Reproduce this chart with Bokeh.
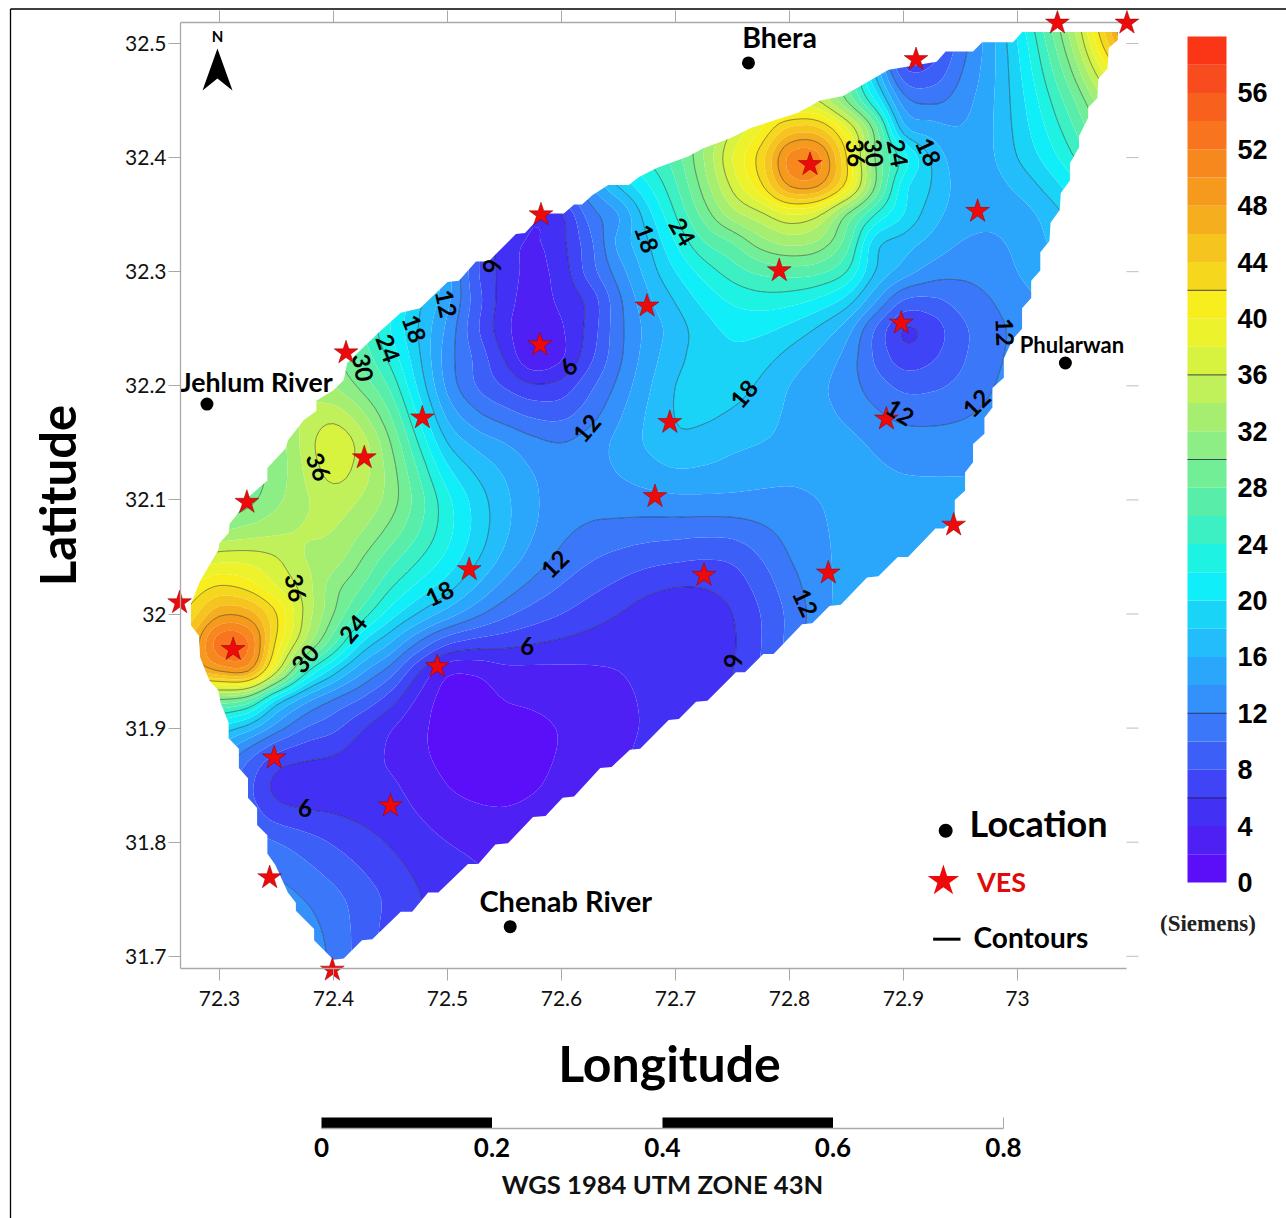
import numpy as np
from bokeh.core.properties import value
from bokeh.embed import file_html
from bokeh.models import FixedTicker, LinearAxis, Range1d
from bokeh.plotting import figure
from bokeh.resources import INLINE

# ---------------- data ----------------
grid_lon = [72.25, 72.30, 72.35, 72.40, 72.45, 72.50, 72.55, 72.60, 72.65, 72.70, 72.75, 72.80, 72.85, 72.90, 72.95, 73.00, 73.05, 73.10]
grid_lat = [32.55, 32.50, 32.45, 32.40, 32.35, 32.30, 32.25, 32.20, 32.15, 32.10, 32.05, 32.00, 31.95, 31.90, 31.85, 31.80, 31.75, 31.70, 31.65]
row_3255 = [40, 40, 40, 38, 34, 28, 24, 24, 28, 33, 38, 42, 32, 8, 12, 22, 36, 54]
row_3250 = [38, 38, 38, 36, 32, 26, 22, 22, 26, 30, 34, 38, 28, 6, 11, 20, 33, 50]
row_3245 = [38, 38, 38, 36, 32, 26, 20, 20, 24, 28, 33, 37, 30, 13, 13, 19, 28, 38]
row_3240 = [38, 38, 38, 36, 32, 26, 20, 17, 22, 27, 38, 50, 42, 23, 15, 18, 24, 32]
row_3235 = [36, 36, 36, 34, 28, 16, 9, 6, 14.3, 24, 33, 38, 30, 20, 15, 15, 19, 24]
row_3230 = [34, 34, 34, 32, 24, 15, 4.5, 4.5, 13, 20, 25, 27, 24, 15, 12.5, 14, 17, 20]
row_3225 = [34, 34, 34, 30, 22, 13.5, 3.5, 3, 11.5, 17, 20.5, 19.5, 15, 6, 9.5, 12.5, 14, 16]
row_3220 = [34, 34, 34, 32, 25.5, 13.5, 7.5, 6.5, 12.5, 18, 18.8, 16, 13, 9.5, 10.5, 13, 14, 15]
row_3215 = [32, 31, 31, 37.5, 30, 18, 14, 12, 14.5, 17.5, 16.5, 15.5, 14.5, 13, 13, 13.5, 14, 14]
row_3210 = [30, 28, 31.5, 35, 31, 22.5, 16.5, 13, 13, 13.5, 13.5, 13.5, 14.5, 14.5, 14.5, 14.5, 14.5, 14.5]
row_3205 = [36, 37, 36, 33, 27, 21.5, 15.5, 11.5, 9.5, 8.5, 8.5, 12, 14.5, 15, 15, 15, 15, 15]
row_3200 = [40, 47, 42, 30, 21, 15, 10.5, 8, 6, 4.5, 6, 10.5, 15, 16, 16, 16, 16, 16]
row_3195 = [42, 48, 36.5, 19, 11, 2.6, 3.4, 3.6, 4, 5, 6, 11, 16, 17, 17, 17, 17, 17]
row_3190 = [28, 20, 13, 8.5, 4.2, 1.3, 1.5, 2.1, 3.5, 5, 7, 12, 16, 17, 17, 17, 17, 17]
row_3185 = [14, 12, 5.5, 5, 4.3, 2, 1.2, 2.6, 4, 6, 8, 12, 16, 17, 17, 17, 17, 17]
row_3180 = [14, 12, 10, 7.8, 5.8, 4, 3.5, 4, 5, 6, 8, 12, 16, 17, 17, 17, 17, 17]
row_3175 = [15, 14, 13, 10.6, 7.5, 5, 4, 4, 5, 6, 8, 12, 16, 17, 17, 17, 17, 17]
row_3170 = [16, 15, 15, 11.5, 7, 5, 4, 4, 5, 6, 8, 12, 16, 17, 17, 17, 17, 17]
row_3165 = [16, 15, 15, 12, 8, 5, 4, 4, 5, 6, 8, 12, 16, 17, 17, 17, 17, 17]

# finer readings (0.025 degree) round the two highs and the narrow low; top row first
high_east_corner = (72.75, 32.45)
high_east = [[33, 37, 37, 36, 30, 22, 13],
             [36, 40, 44.5, 44.5, 38.5, 29, 17],
             [38, 43, 50.5, 50.5, 42, 30, 23],
             [36.5, 41.5, 48, 48, 41, 30, 21],
             [33, 35.5, 38, 36.5, 30, 24, 20],
             [28, 31, 32.5, 31.5, 27, 19, 17],
             [25, 26.5, 27, 26.5, 24, 18, 15]]
high_west_corner = (72.25, 32.05)
high_west = [[36, 36, 37, 37, 36, 34, 33],
             [38, 40, 42, 41, 38, 35, 31],
             [40, 43, 47.5, 47, 42, 35.5, 30],
             [42, 46, 53, 52, 41.5, 33.5, 26.5],
             [42, 45, 48, 48, 36.5, 25, 19],
             [30, 30, 30, 28, 20, 15, 12],
             [28, 26, 20, 17, 13, 10, 8.5]]
low_north_corner = (72.50, 32.35)
low_north = [[16, 12, 8, 5, 6, 11, 14],
             [15, 9, 5.3, 3.8, 5.5, 9.5, 14.5],
             [15, 8.5, 5.2, 3.5, 5, 9, 13],
             [14.5, 9, 5, 3.2, 4.5, 6.8, 11.5],
             [13.5, 8.5, 4.7, 2.5, 3.8, 6.8, 11.3],
             [13, 9.5, 5.8, 2.5, 3.8, 7.5, 11.5],
             [13.5, 10, 7.8, 6.3, 6.8, 9.5, 12.5]]

map_lon = [73.004, 73.088, 73.088, 73.080, 73.079, 73.071, 73.070, 73.062, 73.062, 73.054, 73.054, 73.046, 73.046, 73.038, 73.037, 73.029, 73.028, 73.020, 73.020, 73.012, 73.012, 73.004, 73.004, 72.996, 72.988, 72.988, 72.978, 72.978, 72.971, 72.971, 72.961, 72.961, 72.954, 72.954, 72.945, 72.945, 72.935, 72.928, 72.904, 72.895, 72.878, 72.868, 72.845, 72.835, 72.820, 72.811, 72.786, 72.777, 72.761, 72.753, 72.728, 72.718, 72.703, 72.694, 72.669, 72.660, 72.644, 72.634, 72.611, 72.601, 72.586, 72.575, 72.553, 72.542, 72.527, 72.518, 72.492, 72.483, 72.469, 72.459, 72.434, 72.425, 72.409, 72.400, 72.383, 72.383, 72.367, 72.367, 72.360, 72.349, 72.342, 72.342, 72.333, 72.333, 72.325, 72.325, 72.317, 72.317, 72.308, 72.308, 72.301, 72.299, 72.291, 72.283, 72.282, 72.275, 72.275, 72.283, 72.299, 72.300, 72.308, 72.309, 72.316, 72.325, 72.342, 72.342, 72.358, 72.360, 72.374, 72.385, 72.385, 72.400, 72.409, 72.412, 72.439, 72.459, 72.476, 72.500, 72.510, 72.525, 72.536, 72.560, 72.568, 72.584, 72.602, 72.611, 72.618, 72.627, 72.641, 72.659, 72.668, 72.684, 72.711, 72.724, 72.748, 72.766, 72.807, 72.827, 72.847, 72.868, 72.887, 72.929, 72.937, 72.961, 72.969, 72.996]
map_lat = [32.510, 32.510, 32.503, 32.496, 32.478, 32.469, 32.452, 32.444, 32.435, 32.419, 32.409, 32.395, 32.380, 32.369, 32.354, 32.343, 32.327, 32.317, 32.301, 32.292, 32.277, 32.268, 32.250, 32.241, 32.224, 32.207, 32.198, 32.181, 32.172, 32.158, 32.149, 32.133, 32.124, 32.108, 32.100, 32.082, 32.075, 32.075, 32.050, 32.050, 32.033, 32.032, 32.008, 32.007, 31.992, 31.991, 31.965, 31.965, 31.949, 31.949, 31.924, 31.923, 31.908, 31.907, 31.882, 31.881, 31.866, 31.865, 31.840, 31.839, 31.823, 31.822, 31.799, 31.798, 31.781, 31.781, 31.756, 31.756, 31.739, 31.739, 31.715, 31.714, 31.698, 31.697, 31.714, 31.724, 31.740, 31.747, 31.756, 31.780, 31.790, 31.806, 31.815, 31.830, 31.839, 31.856, 31.865, 31.882, 31.891, 31.905, 31.922, 31.933, 31.942, 31.962, 31.981, 31.990, 32.009, 32.029, 32.056, 32.062, 32.071, 32.079, 32.088, 32.102, 32.117, 32.128, 32.145, 32.152, 32.170, 32.178, 32.187, 32.196, 32.205, 32.220, 32.246, 32.264, 32.268, 32.291, 32.292, 32.309, 32.309, 32.333, 32.334, 32.351, 32.351, 32.359, 32.359, 32.367, 32.376, 32.376, 32.383, 32.391, 32.401, 32.408, 32.417, 32.426, 32.439, 32.450, 32.454, 32.466, 32.477, 32.484, 32.493, 32.493, 32.501, 32.501]

ves_lon = [73.035, 73.096, 72.911, 72.818, 72.965, 72.582, 72.791, 72.675, 72.898, 72.581, 72.411, 72.478, 72.885, 72.695, 72.427, 72.324, 72.682, 72.944, 72.519, 72.725, 72.834, 72.265, 72.312, 72.491, 72.348, 72.450, 72.344, 72.399]
ves_lat = [32.518, 32.518, 32.486, 32.394, 32.353, 32.350, 32.301, 32.270, 32.255, 32.236, 32.229, 32.172, 32.171, 32.168, 32.137, 32.098, 32.103, 32.078, 32.039, 32.034, 32.036, 32.010, 31.969, 31.954, 31.874, 31.832, 31.769, 31.688]

town_lon = [72.764, 72.289, 73.042, 72.555]
town_lat = [32.483, 32.184, 32.220, 31.726]

cl_text = ["36", "30", "24", "18", "18", "24", "6", "6", "12", "18", "24", "30", "12", "18", "12", "12", "12", "36", "36", "30", "24", "18", "12", "6", "6", "12", "6"]
cl_lon = [72.858, 72.874, 72.895, 72.922, 72.675, 72.706, 72.539, 72.606, 72.499, 72.471, 72.448, 72.426, 72.622, 72.760, 72.897, 72.964, 72.989, 72.387, 72.367, 72.375, 72.417, 72.493, 72.594, 72.570, 72.750, 72.814, 72.375]
cl_lat = [32.404, 32.404, 32.404, 32.405, 32.329, 32.335, 32.305, 32.217, 32.272, 32.250, 32.233, 32.216, 32.163, 32.193, 32.177, 32.185, 32.247, 32.129, 32.023, 31.961, 31.987, 32.018, 32.044, 31.972, 31.959, 32.010, 31.830]
cl_deg = [-85, -85, -80, -65, -70, -60, -90, 45, -78, -70, -70, -80, 50, 50, -32, 45, -88, -68, -78, 50, 50, 25, 45, 0, -90, -65, 0]

levels = list(range(0, 62, 2))
line_levels = [6, 12, 18, 24, 30, 36, 42, 48, 54]
palette = ["#5a0ff8", "#4f20f4", "#4330f5", "#3f45f6", "#3b5ff7", "#3a78f9", "#3490fb", "#2aa7fb", "#22bdfa", "#1ad4f8",
           "#10eefa", "#1ef2e2", "#3cf0c4", "#58eeaa", "#72ee96", "#8cee84", "#a6ee70", "#c0f05a", "#d8f240", "#ecf22c",
           "#f8ee1e", "#f5d81e", "#f5c41e", "#f5ae1e", "#f69a1e", "#f6881e", "#f8741e", "#f8601e", "#f84c1e", "#fa3616"]
bar_ticks = list(range(0, 60, 4))
bar_lines = [6, 12, 30, 36, 42]
lon_ticks = [72.3, 72.4, 72.5, 72.6, 72.7, 72.8, 72.9, 73.0]
lat_ticks = [31.7, 31.8, 31.9, 32.0, 32.1, 32.2, 32.3, 32.4, 32.5]
lon_labels = {72.3: "72.3", 72.4: "72.4", 72.5: "72.5", 72.6: "72.6", 72.7: "72.7", 72.8: "72.8", 72.9: "72.9", 73.0: "73"}
lat_labels = {31.7: "31.7", 31.8: "31.8", 31.9: "31.9", 32.0: "32", 32.1: "32.1", 32.2: "32.2", 32.3: "32.3", 32.4: "32.4", 32.5: "32.5"}
scale_ticks = [0, 0.2, 0.4, 0.6, 0.8]
scale_labels = {0: "0", 0.2: "0.2", 0.4: "0.4", 0.6: "0.6", 0.8: "0.8"}
scale_left = [0, 0.4]
scale_right = [0.2, 0.6]

# ---------------- page calibration ----------------
W, H = 1286, 1218
X0, Y0 = 0, 0
PXLON, PXLAT = 1140.0, 1141.0
lon_start = 72.3 + (X0 - 219) / PXLON
lon_end = lon_start + W / PXLON
lat_end = 32.5 + (43 - Y0) / PXLAT
lat_start = lat_end - H / PXLAT
frame_l, frame_r, frame_t, frame_b = 72.2658, 73.0956, 32.5184, 31.6895

p = figure(width=W, height=H, min_border=0, output_backend="svg", toolbar_location=None,
           x_range=Range1d(lon_start, lon_end), y_range=Range1d(lat_start, lat_end),
           x_axis_location=None, y_axis_location=None, outline_line_color=None)
p.grid.visible = False
p.background_fill_color = "white"
p.border_fill_color = "white"
p.extra_x_ranges = {"cbx": Range1d((X0 - 1187) / 39.0, (X0 + W - 1187) / 39.0),
                    "scale": Range1d((X0 - 321) / 852.5, (X0 + W - 321) / 852.5)}
p.extra_y_ranges = {"cb": Range1d((882 - Y0 - H) / 14.1, (882 - Y0) / 14.1),
                    "bar": Range1d((1128 - Y0 - H) / 11.0, (1128 - Y0) / 11.0)}


# ---------------- field ----------------
def cr_1d(a, n, axis):
    a = np.moveaxis(np.asarray(a, float), axis, 0)
    m = a.shape[0]
    t = np.linspace(0, m - 1, (m - 1) * n + 1)
    i = np.clip(np.floor(t).astype(int), 0, m - 2)
    u = (t - i).reshape((-1,) + (1,) * (a.ndim - 1))
    p0 = a[np.clip(i - 1, 0, m - 1)]
    p1 = a[i]
    p2 = a[i + 1]
    p3 = a[np.clip(i + 2, 0, m - 1)]
    out = 0.5 * (2 * p1 + (p2 - p0) * u + (2 * p0 - 5 * p1 + 4 * p2 - p3) * u ** 2 + (3 * p1 - p0 - 3 * p2 + p3) * u ** 3)
    return np.moveaxis(out, 0, axis)


rows = [row_3165, row_3170, row_3175, row_3180, row_3185, row_3190, row_3195, row_3200, row_3205, row_3210,
        row_3215, row_3220, row_3225, row_3230, row_3235, row_3240, row_3245, row_3250, row_3255]
z2 = cr_1d(cr_1d(np.array(rows), 2, 0), 2, 1)
for corner, patch in ((high_east_corner, high_east), (high_west_corner, high_west), (low_north_corner, low_north)):
    a = np.array(patch, float)[::-1]
    j0 = int(round((corner[0] - grid_lon[0]) / 0.025))
    i0 = int(round((corner[1] - grid_lat[-1]) / 0.025)) - (a.shape[0] - 1)
    z2[i0:i0 + a.shape[0], j0:j0 + a.shape[1]] = a
zz = np.clip(cr_1d(cr_1d(z2, 5, 0), 5, 1), 0.05, 59.9)
xx = np.linspace(grid_lon[0], grid_lon[-1], zz.shape[1])
yy = np.linspace(grid_lat[-1], grid_lat[0], zz.shape[0])
inside_page = yy <= frame_t + 0.002
yy = yy[inside_page]
zz = zz[inside_page, :]

p.contour(xx, yy, zz, levels, fill_color=palette)
p.contour(xx, yy, zz, line_levels, line_color="#111111", line_width=0.45)

# white blanking outside the surveyed area
ox = [grid_lon[0] - 0.01, grid_lon[-1] + 0.01, grid_lon[-1] + 0.01, grid_lon[0] - 0.01]
oy = [grid_lat[-1] - 0.01, grid_lat[-1] - 0.01, frame_t + 0.006, frame_t + 0.006]
p.multi_polygons(xs=[[[ox, map_lon]]], ys=[[[oy, map_lat]]], fill_color="white", line_color=None)

# ---------------- axes ----------------
grey = "#a9a9a9"
TICK_LON = 12 / PXLON
TICK_LAT = 12 / PXLAT
def frame_axis(axis, side):
    axis.axis_line_color = grey
    axis.axis_line_width = 1.3
    axis.major_tick_line_color = grey
    axis.major_tick_line_width = 1
    axis.major_tick_out = 12
    axis.major_tick_in = 0
    axis.minor_tick_line_color = None
    p.add_layout(axis, side)

left = LinearAxis(fixed_location=frame_l, bounds=(frame_b, frame_t), ticker=FixedTicker(ticks=lat_ticks),
                  major_label_overrides=lat_labels, axis_label="Latitude", axis_label_standoff=36,
                  axis_label_text_font="Lato", axis_label_text_font_size="49px", axis_label_text_font_style="bold",
                  axis_label_text_color="black", major_label_text_font="Lato", major_label_text_font_size="21px",
                  major_label_text_color="#111111", major_label_standoff=2)
frame_axis(left, "left")
bottom = LinearAxis(fixed_location=frame_b, bounds=(frame_l, frame_r), ticker=FixedTicker(ticks=lon_ticks),
                    major_label_overrides=lon_labels, major_label_text_font="Lato", major_label_text_font_size="21px",
                    major_label_text_color="#111111", major_label_standoff=11)
frame_axis(bottom, "below")

# top frame line with its ticks, and the ticks on the right side
p.segment(x0=[frame_l], x1=[frame_r], y0=[frame_t], y1=[frame_t], line_color=grey, line_width=1.3)
p.segment(x0=lon_ticks, x1=lon_ticks, y0=[frame_t] * len(lon_ticks), y1=[frame_t + TICK_LAT] * len(lon_ticks),
          line_color=grey, line_width=1)
p.segment(x0=[frame_r] * len(lat_ticks), x1=[frame_r + TICK_LON] * len(lat_ticks), y0=lat_ticks, y1=lat_ticks,
          line_color="#bdbdbd", line_width=1)

# page rule, top and left
page_top = 32.5 + (43 - 8.5) / PXLAT
page_left = 72.3 + (10 - 219) / PXLON
p.segment(x0=[page_left, page_left], y0=[page_top, page_top], x1=[lon_end, page_left], y1=[page_top, lat_start],
          line_color="black", line_width=1.3)

# ---------------- colour bar ----------------
p.quad(left=0, right=1, bottom=levels[:-1], top=levels[1:], fill_color=palette, line_color=None,
       x_range_name="cbx", y_range_name="cb")
p.segment(x0=[0] * len(bar_lines), x1=[1] * len(bar_lines), y0=bar_lines, y1=bar_lines, line_color="#1a1a40",
          line_width=0.8, x_range_name="cbx", y_range_name="cb")
cb_axis = LinearAxis(x_range_name="cbx", y_range_name="cb", fixed_location=1, ticker=FixedTicker(ticks=bar_ticks),
                     axis_line_color=None, major_tick_line_color=None, minor_tick_line_color=None,
                     major_label_text_font="Liberation Sans", major_label_text_font_style="bold",
                     major_label_text_font_size="27px", major_label_standoff=5, major_label_text_color="black",
                     major_label_overrides={t: str(t) for t in bar_ticks})
p.add_layout(cb_axis, "right")

# ---------------- scale bar ----------------
p.quad(left=scale_left, right=scale_right, bottom=0, top=1, fill_color="black", line_color=None,
       x_range_name="scale", y_range_name="bar")
p.segment(x0=[scale_ticks[-1]], x1=[scale_ticks[-1]], y0=[0], y1=[1], line_color=grey, line_width=1,
          x_range_name="scale", y_range_name="bar")
scale_axis = LinearAxis(x_range_name="scale", y_range_name="bar", fixed_location=0, bounds=(0, 0.8),
                        ticker=FixedTicker(ticks=scale_ticks), major_label_overrides=scale_labels,
                        axis_line_color=grey, axis_line_width=1.3, major_tick_line_color=None, minor_tick_line_color=None,
                        major_label_text_font="Lato", major_label_text_font_style="bold",
                        major_label_text_font_size="26px", major_label_text_color="black", major_label_standoff=3,
                        axis_label="WGS 1984 UTM ZONE 43N", axis_label_text_font="Lato",
                        axis_label_text_font_style="bold", axis_label_text_font_size="25.6px",
                        axis_label_text_color="#111111", axis_label_standoff=9)
p.add_layout(scale_axis, "below")

# ---------------- marks ----------------
p.scatter(town_lon, town_lat, marker="circle", size=13, fill_color="black", line_color=None)
p.scatter(ves_lon, ves_lat, marker="star", size=25, fill_color="#ee0a0a", line_color="#8a0000", line_width=0.5)

# north arrow
p.patch([72.2982, 72.2851, 72.2982, 72.3114], [32.4956, 32.4588, 32.4693, 32.4588], fill_color="black", line_color=None)

# legend marks
p.scatter([72.937], [31.810], marker="circle", size=14, fill_color="black", line_color=None)
p.scatter([72.935], [31.766], marker="star", size=33, fill_color="#ee0a0a", line_color=None)
p.line([72.926, 72.950], [31.715, 31.715], line_color="black", line_width=3)

# ---------------- texts ----------------
def txt(x, y, s, size, color="black", font="Lato", style="bold", align="left"):
    p.text([x], [y], text=[s], text_font=value(font), text_font_size=f"{size}px", text_font_style=style,
           text_color=color, text_align=align, text_baseline="middle")

txt(72.7585, 32.5053, "Bhera", 28.5)
txt(72.2655, 32.2030, "Jehlum River", 26.7)
txt(73.002, 32.2362, "Phularwan", 22)
txt(72.528, 31.7485, "Chenab River", 29)
txt(72.2982, 32.507, "N", 15, align="center")
txt(72.958, 31.8165, "Location", 36)
txt(72.9645, 31.7655, "VES", 27, color="#e00a0a")
txt(72.9615, 31.7170, "Contours", 28)
txt(72.6947, 31.6063, "Longitude", 50, align="center")
txt(73.167, 31.729, "(Siemens)", 23, color="#222222", font="Liberation Serif", align="center")

p.text(cl_lon, cl_lat, text=cl_text, angle=cl_deg, angle_units="deg", text_font=value("Lato"), text_font_size="24px",
       text_font_style="bold", text_color="black", text_align="center", text_baseline="middle")

open("out.html", "w").write(file_html(p, INLINE))
